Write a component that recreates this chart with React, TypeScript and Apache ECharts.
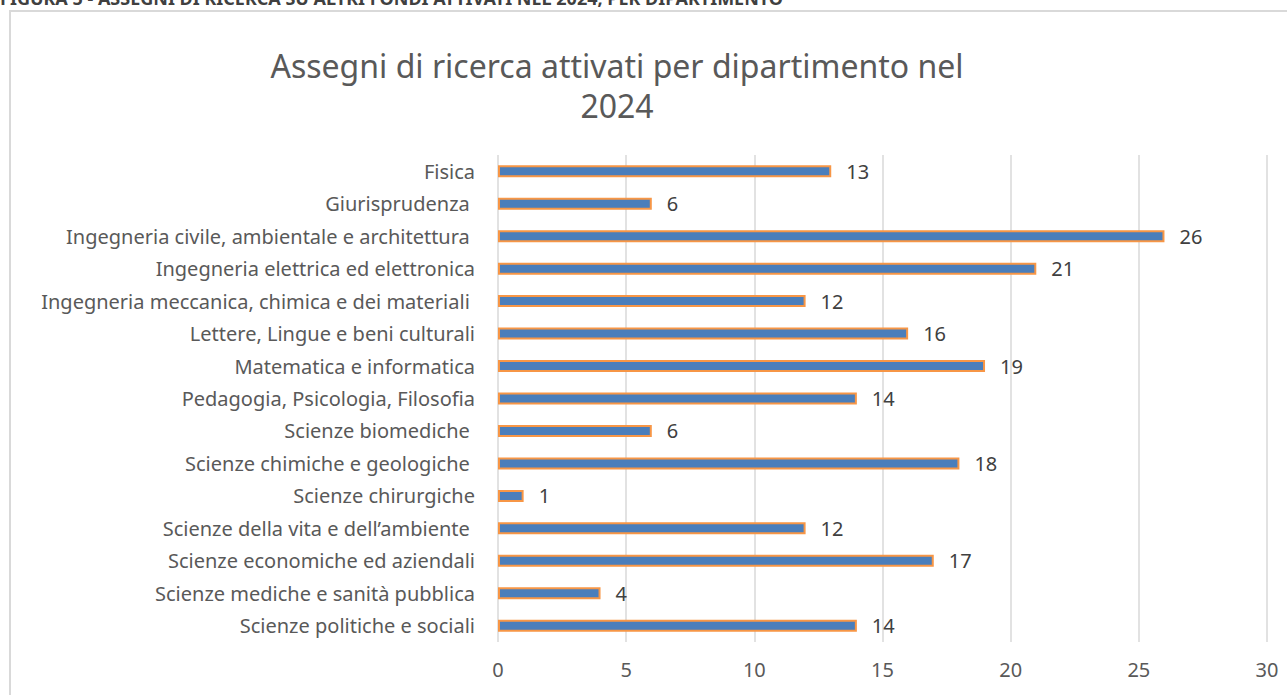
import React, { useEffect, useRef } from "react";
import * as echarts from "echarts";

const categories: string[] = [
  "Fisica",
  "Giurisprudenza ",
  "Ingegneria civile, ambientale e architettura ",
  "Ingegneria elettrica ed elettronica",
  "Ingegneria meccanica, chimica e dei materiali ",
  "Lettere, Lingue e beni culturali",
  "Matematica e informatica",
  "Pedagogia, Psicologia, Filosofia",
  "Scienze biomediche ",
  "Scienze chimiche e geologiche ",
  "Scienze chirurgiche",
  "Scienze della vita e dell’ambiente ",
  "Scienze economiche ed aziendali",
  "Scienze mediche e sanità pubblica",
  "Scienze politiche e sociali",
];

const values: number[] = [13, 6, 26, 21, 12, 16, 19, 14, 6, 18, 1, 12, 17, 4, 14];

const axisMin = 0;
const axisMax = 30;
const axisStep = 5;

const chartTitle = "Assegni di ricerca attivati per dipartimento nel\n2024";
const figureCaption = "FIGURA 5 - ASSEGNI DI RICERCA SU ALTRI FONDI ATTIVATI NEL 2024, PER DIPARTIMENTO";

const FONT = "'Noto Sans', 'Open Sans', sans-serif";

export default function App() {
  const ref = useRef<HTMLDivElement>(null);
  useEffect(() => {
    if (!ref.current) return;
    const chart = echarts.init(ref.current, undefined, { renderer: "svg" });
    chart.setOption({
      animation: false,
      backgroundColor: "#ffffff",
      textStyle: { fontFamily: FONT },
      title: {
        text: chartTitle,
        left: 612,
        textAlign: "center",
        top: 40,
        textStyle: {
          fontFamily: FONT,
          fontSize: 32,
          fontWeight: "normal",
          color: "#595959",
          lineHeight: 40,
        },
      },
      graphic: [
        {
          type: "rect",
          shape: { x: 10, y: 11, width: 1320, height: 740 },
          style: { fill: "none", stroke: "#d9d9d9", lineWidth: 2 },
          silent: true,
        },
        {
          type: "text",
          x: 0,
          y: -2,
          style: {
            text: figureCaption,
            fontFamily: FONT,
            fontSize: 18,
            fontWeight: "bold",
            fill: "#404040",
            textVerticalAlign: "middle",
          },
        },
      ],
      grid: { left: 498, right: 20, top: 155, bottom: 53 },
      xAxis: {
        type: "value",
        min: axisMin,
        max: axisMax,
        interval: axisStep,
        axisLine: { show: false },
        axisTick: { show: false },
        axisLabel: { color: "#595959", fontSize: 20, margin: 17, fontFamily: FONT },
        splitLine: { lineStyle: { color: "#d9d9d9", width: 1.5 } },
      },
      yAxis: {
        type: "category",
        data: categories,
        inverse: true,
        axisLine: { show: false },
        axisTick: { show: false },
        axisLabel: { color: "#595959", fontSize: 20, margin: 23, fontFamily: FONT },
      },
      series: [
        {
          type: "bar",
          data: values,
          barWidth: 12,
          itemStyle: { color: "#4a7ebb", borderColor: "#f79646", borderWidth: 2 },
          label: {
            show: true,
            position: "right",
            distance: 15,
            color: "#404040",
            fontSize: 20,
            fontFamily: FONT,
          },
        },
      ],
    });
    return () => chart.dispose();
  }, []);
  return (
    <div
      ref={ref}
      style={{ position: "absolute", left: 0, top: 0, width: 1287, height: 695 }}
    />
  );
}
